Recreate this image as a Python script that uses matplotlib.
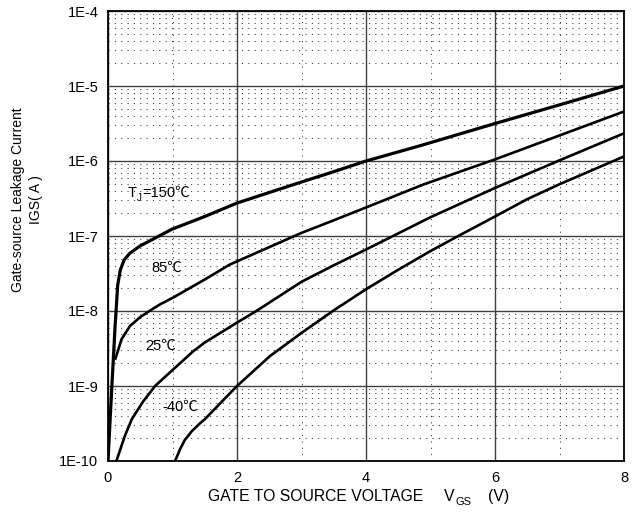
import matplotlib
matplotlib.use("Agg")
import matplotlib.pyplot as plt
import numpy as np
from matplotlib.ticker import LogLocator, FixedLocator, NullFormatter

plt.rcParams["font.family"] = ["Liberation Sans", "Noto Sans CJK SC", "DejaVu Sans"]

# gate leakage current IGS (A) vs VGS (V)
v_150 = [0.0, 0.06, 0.11, 0.15, 0.19, 0.25, 0.34, 0.50, 0.68, 0.99, 1.5, 2.0, 2.5, 3.0,
         3.5, 4.0, 4.84, 6.0, 7.0, 8.0]
i_150 = [1e-10, 1e-9, 6.3e-9, 2.2e-8, 3.5e-8, 4.8e-8, 5.9e-8, 7.4e-8, 8.9e-8, 1.23e-7,
         1.82e-7, 2.75e-7, 3.8e-7, 5.25e-7, 7.2e-7, 1.0e-6, 1.6e-6, 3.16e-6, 5.6e-6, 1.0e-5]

v_85 = [0.11, 0.21, 0.34, 0.50, 0.68, 0.81, 1.01, 1.5, 1.89, 2.5, 3.0, 3.5, 4.0, 4.9,
        6.0, 7.0, 8.0]
i_85 = [2.24e-9, 4.2e-9, 6.3e-9, 8.3e-9, 1.05e-8, 1.23e-8, 1.51e-8, 2.63e-8, 4.17e-8,
        7.1e-8, 1.1e-7, 1.62e-7, 2.4e-7, 4.9e-7, 1.05e-6, 2.19e-6, 4.57e-6]

v_25 = [0.13, 0.26, 0.37, 0.55, 0.73, 1.01, 1.32, 1.5, 2.0, 2.3, 3.0, 3.5, 4.0, 5.0,
        6.0, 7.0, 8.0]
i_25 = [1e-10, 2.14e-10, 3.63e-10, 6.3e-10, 1.0e-9, 1.66e-9, 2.9e-9, 3.8e-9, 7.0e-9,
        1.0e-8, 2.45e-8, 4.07e-8, 6.6e-8, 1.78e-7, 4.37e-7, 1.02e-6, 2.34e-6]

v_m40 = [1.04, 1.12, 1.19, 1.30, 1.43, 1.5, 2.0, 2.51, 3.0, 3.5, 4.0, 4.5, 5.0, 5.43,
         6.0, 6.5, 7.0, 8.0]
i_m40 = [1e-10, 1.45e-10, 1.9e-10, 2.5e-10, 3.2e-10, 3.6e-10, 1e-9, 2.5e-9, 5.1e-9,
         1.02e-8, 1.95e-8, 3.55e-8, 6.3e-8, 1.0e-7, 1.82e-7, 3.1e-7, 4.9e-7, 1.15e-6]

x_ticks = [0, 2, 4, 6, 8]
x_minor = [1, 3, 5, 7]
y_ticks = [1e-10, 1e-9, 1e-8, 1e-7, 1e-6, 1e-5, 1e-4]
y_ticklabels = ["1E-10", "1E-9", "1E-8", "1E-7", "1E-6", "1E-5", "1E-4"]

fig = plt.figure(figsize=(6.37, 5.15), dpi=100)
ax = fig.add_axes([108 / 637, 1 - 461 / 515, 516 / 637, 450 / 515])

ax.set_yscale("log")
ax.set_xlim(0, 8)
ax.set_ylim(1e-10, 1e-4)

ax.xaxis.set_major_locator(FixedLocator(x_ticks))
ax.xaxis.set_minor_locator(FixedLocator(x_minor))
ax.yaxis.set_major_locator(FixedLocator(y_ticks))
ax.yaxis.set_minor_locator(LogLocator(base=10, subs=np.arange(2, 10)))
ax.yaxis.set_minor_formatter(NullFormatter())
ax.set_yticklabels(y_ticklabels)

ax.grid(True, which="major", color="#404040", linewidth=1.0, linestyle="-")
ax.grid(True, which="minor", color="#333333", linewidth=0.75, linestyle=(0, (1, 5.1)))
ax.set_axisbelow(True)
ax.tick_params(which="both", length=0, labelsize=10.5, pad=7)
for s in ax.spines.values():
    s.set_linewidth(1.3)
    s.set_color("black")

ax.plot(v_150, i_150, color="black", linewidth=2.3, solid_capstyle="butt", solid_joinstyle="round")
for v, i in [(v_85, i_85), (v_25, i_25), (v_m40, i_m40)]:
    ax.plot(v, i, color="black", linewidth=1.9, solid_capstyle="butt", solid_joinstyle="round")

# T_J=150℃ built from pieces so the ℃ sign can fall back to another font
lab = (0.30, 3.3e-7)
ax.annotate("T", xy=lab, fontsize=10.5, va="baseline", ha="left")
ax.annotate("J", xy=lab, xytext=(6.8, -2.5), textcoords="offset points",
            fontsize=7, va="baseline", ha="left")
ax.annotate("=150\u2103", xy=lab, xytext=(10.6, 0), textcoords="offset points",
            fontsize=10.5, va="baseline", ha="left")

ax.text(0.68, 3.8e-8, "85\u2103", fontsize=10.5, va="center", ha="left")
ax.text(0.57, 3.4e-9, "25\u2103", fontsize=10.5, va="center", ha="left")
ax.text(0.84, 5.2e-10, "-40\u2103", fontsize=10.5, va="center", ha="left")

# x label in pieces to keep the wide gaps of the original
yl = 1 - 501 / 515
fig.text(208 / 637, yl, "GATE TO SOURCE VOLTAGE", fontsize=11.3, ha="left", va="baseline")
fig.text(444 / 637, yl, "V", fontsize=11.3, ha="left", va="baseline")
fig.text(455 / 637, yl - 4 / 515, "GS", fontsize=8, ha="left", va="baseline")
fig.text(488 / 637, yl, "(V)", fontsize=11.3, ha="left", va="baseline")

fig.text(27 / 637, 1 - 200 / 515, "Gate-source Leakage Current\nIGS( A )", fontsize=10,
         rotation=90, ha="center", va="center", multialignment="center", linespacing=1.3)

fig.savefig("out.png", dpi=100)
